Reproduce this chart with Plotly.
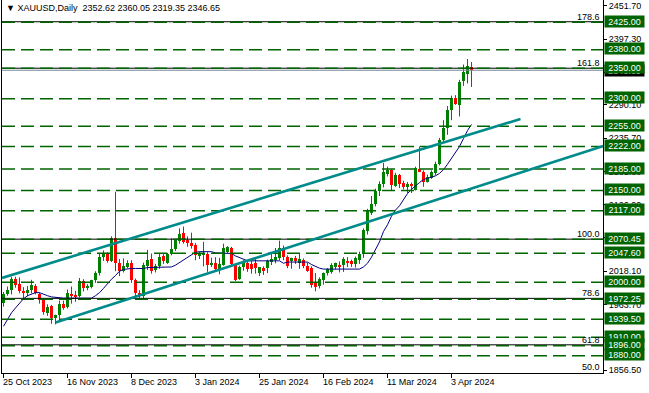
import pandas as pd
import plotly.graph_objects as go

# ---------------- data ----------------
symbol = "XAUUSD"
timeframe = "Daily"
start_date = "2023-10-25"
end_date = "2024-04-10"
holidays = ["2023-12-25", "2024-01-01", "2024-03-29"]

opens = [1966, 1981, 1987, 2005, 1997, 1986, 1983, 1987, 1994, 1981,
         1972, 1950, 1961, 1941, 1946, 1964, 1959, 1981, 1979, 1978,
         2002, 1991, 1993, 2003, 2015, 2042, 2046, 2035, 2072, 2031,
         2019, 2025, 2031, 2004, 1983, 1978, 2027, 2038, 2020, 2027,
         2043, 2032, 2046, 2054, 2068, 2080, 2069, 2064, 2061, 2043,
         2044, 2046, 2029, 2031, 2022, 2029, 2049, 2056, 2028, 2006,
         2025, 2032, 2030, 2031, 2015, 2023, 2023, 2033, 2036, 2039,
         2056, 2041, 2035, 2039, 2031, 2036, 2026, 2023, 1998, 1994,
         2004, 2015, 2017, 2025, 2029, 2028, 2035, 2034, 2030, 2036,
         2047, 2083, 2114, 2128, 2149, 2160, 2177, 2183, 2158, 2176,
         2162, 2156, 2161, 2151, 2185, 2181, 2164, 2171, 2178, 2194,
         2233, 2252, 2281, 2301, 2290, 2329, 2341, 2352.62]
highs = [1984, 1993, 2009, 2009, 2008, 1992, 1994, 2004, 1997, 1983,
         1974, 1964, 1963, 1947, 1970, 1970, 1988, 1993, 1986, 2007,
         2005, 1997, 2004, 2018, 2048, 2052, 2049, 2075, 2148, 2038,
         2039, 2036, 2036, 2006, 1987, 2032, 2053, 2047, 2030, 2047,
         2046, 2048, 2072, 2070, 2088, 2091, 2075, 2081, 2064, 2050,
         2066, 2049, 2040, 2041, 2040, 2063, 2059, 2058, 2030, 2027,
         2036, 2035, 2036, 2041, 2025, 2026, 2037, 2047, 2056, 2068,
         2060, 2044, 2040, 2043, 2047, 2039, 2032, 2026, 2015, 2008,
         2016, 2023, 2031, 2032, 2034, 2041, 2041, 2037, 2042, 2050,
         2088, 2120, 2141, 2153, 2165, 2195, 2189, 2185, 2179, 2177,
         2166, 2164, 2163, 2189, 2222, 2183, 2176, 2183, 2197, 2236,
         2265, 2288, 2305, 2306, 2331, 2356, 2365, 2360.05]
lows = [1960, 1978, 1980, 1991, 1982, 1973, 1977, 1982, 1980, 1965,
        1947, 1945, 1932, 1931, 1938, 1955, 1957, 1965, 1968, 1975,
        1985, 1987, 1990, 1999, 2011, 2035, 2032, 2033, 2018, 2010,
        2016, 2023, 1999, 1976, 1974, 1973, 2020, 2014, 2016, 2022,
        2030, 2030, 2044, 2051, 2063, 2063, 2058, 2055, 2036, 2038,
        2026, 2017, 2025, 2017, 2013, 2027, 2047, 2025, 2002, 2004,
        2019, 2017, 2014, 2014, 2010, 2012, 2015, 2028, 2031, 2036,
        2036, 2023, 2022, 2030, 2022, 2023, 2017, 1991, 1985, 1990,
        1996, 2011, 2014, 2021, 2016, 2017, 2025, 2025, 2024, 2030,
        2040, 2078, 2110, 2124, 2141, 2155, 2173, 2150, 2156, 2154,
        2152, 2146, 2146, 2150, 2180, 2156, 2163, 2169, 2175, 2191,
        2228, 2241, 2265, 2290, 2271, 2321, 2325, 2319.35]
closes = [1981, 1987, 2006, 1996, 1985, 1983, 1988, 1995, 1983, 1971,
          1951, 1960, 1941, 1946, 1964, 1958, 1983, 1978, 1977, 2002,
          1991, 1994, 2003, 2015, 2042, 2046, 2035, 2072, 2031, 2018,
          2026, 2031, 2004, 1982, 1977, 2028, 2037, 2019, 2027, 2041,
          2034, 2047, 2054, 2070, 2079, 2066, 2064, 2060, 2044, 2046,
          2048, 2028, 2032, 2021, 2030, 2056, 2057, 2030, 2004, 2025,
          2033, 2022, 2021, 2023, 2025, 2019, 2035, 2038, 2042, 2056,
          2041, 2026, 2039, 2034, 2038, 2026, 2019, 1996, 1992, 2006,
          2015, 2022, 2028, 2031, 2026, 2038, 2031, 2030, 2039, 2047,
          2085, 2116, 2128, 2150, 2161, 2180, 2184, 2159, 2176, 2160,
          2156, 2160, 2157, 2187, 2181, 2164, 2172, 2181, 2194, 2233,
          2252, 2282, 2301, 2291, 2328, 2344, 2353, 2346.65]

# indicator line (dark blue)
ma_values = [1928, 1939, 1950, 1958, 1966, 1973, 1978, 1981, 1983, 1983,
             1980, 1978, 1976, 1975, 1974.5, 1974, 1974, 1974, 1974, 1974,
             1974, 1974, 1974, 1978, 1983, 1990, 1998, 2005, 2011, 2018,
             2021, 2022, 2022.5, 2022.5, 2022.5, 2022.5, 2024, 2024, 2024, 2024,
             2024, 2024, 2025, 2028, 2032, 2036, 2041, 2045, 2049, 2050,
             2050, 2050, 2050, 2048, 2048, 2048, 2048, 2047, 2043, 2040,
             2037, 2035, 2035, 2035, 2035, 2035, 2036, 2036, 2035, 2035,
             2031, 2033, 2033, 2033, 2033, 2033, 2033, 2029, 2026, 2023,
             2021.5, 2021.5, 2021.5, 2021.5, 2021.5, 2021.5, 2021.5, 2021.5, 2021.5, 2021.5,
             2025, 2031, 2041, 2054, 2066, 2083, 2094, 2108, 2118, 2125,
             2135, 2145, 2152, 2158, 2163, 2168, 2170, 2171, 2174, 2178,
             2184, 2193, 2203, 2213, 2222, 2235, 2248, 2258]

# horizontal price levels (green dashed lines with labels)
levels = [2425.00, 2380.00, 2350.00, 2300.00, 2255.00, 2222.00, 2185.00,
          2150.00, 2117.00, 2070.45, 2047.60, 2000.00, 1972.25, 1939.50,
          1910.00, 1896.00, 1880.00]

# fibonacci object
fib_low = 1618.15
fib_high = 2070.45
fib_ratios = [50.0, 61.8, 78.6, 100.0, 161.8, 178.6]

# channel trendlines (bar index, price)
upper_line_idx = [-0.375, 129.25]
upper_line_px = [2007.0, 2267.0]
lower_line_idx = [13.0, 150.0]
lower_line_px = [1934.0, 2223.0]

# price axis labels
price_ticks = [2451.70, 2397.30, 2343.70, 2290.10, 2235.70, 2181.30,
               2126.90, 2072.50, 2018.10, 1963.70, 1910.10, 1856.50]

date_tick_step = 16

# ---------------- build ----------------
dates = [d for d in pd.bdate_range(start_date, end_date)
         if d.strftime("%Y-%m-%d") not in holidays]
n = len(opens)
idx = list(range(n))

GREEN = "#008000"
RED = "#ff0000"
LEVEL_GREEN = "#006400"
FONT = "Liberation Sans, Arial, sans-serif"

fig = go.Figure()

# candle bodies
bases, heights, colors = [], [], []
for o, c in zip(opens, closes):
    lo, hi = min(o, c), max(o, c)
    h = max(hi - lo, 1.6)
    bases.append(lo if hi - lo >= 1.6 else (lo + hi) / 2 - 0.8)
    heights.append(h)
    colors.append(GREEN if c >= o else RED)

# wicks
for col in (GREEN, RED):
    wx, wy = [], []
    for i in idx:
        if colors[i] == col:
            wx += [i, i, None]
            wy += [lows[i], highs[i], None]
    fig.add_trace(go.Scatter(x=wx, y=wy, mode="lines",
                             line=dict(color=col, width=1),
                             hoverinfo="skip", showlegend=False))

fig.add_trace(go.Bar(x=idx, y=heights, base=bases, width=0.75,
                     marker=dict(color=colors, line=dict(width=0)),
                     showlegend=False, hoverinfo="skip"))

fig.add_trace(go.Scatter(x=idx, y=ma_values, mode="lines",
                         line=dict(color="#000080", width=1),
                         showlegend=False, hoverinfo="skip"))

shapes = []
# fibonacci lines (black)
for r in fib_ratios:
    p = fib_low + (fib_high - fib_low) * r / 100.0
    shapes.append(dict(type="line", xref="paper", x0=0, x1=1, yref="y",
                       y0=p, y1=p, line=dict(color="black", width=1)))
# green dashed levels
for p in levels:
    shapes.append(dict(type="line", xref="paper", x0=0, x1=1, yref="y",
                       y0=p, y1=p,
                       line=dict(color=LEVEL_GREEN, width=1.5, dash="13px,6px")))
# bid line
shapes.append(dict(type="line", xref="paper", x0=0, x1=1, yref="y",
                   y0=closes[-1], y1=closes[-1],
                   line=dict(color="#778899", width=1)))
# channel lines
shapes.append(dict(type="line", xref="x", yref="y",
                   x0=upper_line_idx[0], x1=upper_line_idx[1],
                   y0=upper_line_px[0], y1=upper_line_px[1],
                   line=dict(color="#008b8b", width=2.6)))
shapes.append(dict(type="line", xref="x", yref="y",
                   x0=lower_line_idx[0], x1=lower_line_idx[1],
                   y0=lower_line_px[0], y1=lower_line_px[1],
                   line=dict(color="#008b8b", width=2.6)))

annotations = []
# title
annotations.append(dict(
    xref="paper", yref="paper", x=0, y=1, xanchor="left", yanchor="top",
    xshift=2, yshift=-1, showarrow=False, align="left",
    text="▼ %s,%s  %.2f %.2f %.2f %.2f" % (symbol, timeframe, opens[-1],
                                           highs[-1], lows[-1], closes[-1]),
    font=dict(family=FONT, size=9, color="black")))
# fib labels
for r in fib_ratios:
    p = fib_low + (fib_high - fib_low) * r / 100.0
    yv = max(p, 1853.0)
    annotations.append(dict(
        xref="paper", yref="y", x=1, y=yv, xanchor="right", yanchor="bottom",
        xshift=-1, yshift=-2, showarrow=False, text="%.1f" % r,
        font=dict(family=FONT, size=9, color="black")))
# date labels
tick_idx = idx[::date_tick_step]
for i in tick_idx:
    d = dates[i]
    annotations.append(dict(
        xref="x", yref="paper", x=i, y=0, xanchor="left", yanchor="top",
        xshift=-3, yshift=-2, showarrow=False,
        text="%d %s" % (d.day, d.strftime("%b %Y")),
        font=dict(family=FONT, size=9, color="black")))
# bid label (hidden mostly)
annotations.append(dict(
    xref="paper", yref="y", x=1, y=closes[-1], xanchor="left", yanchor="middle",
    xshift=1, showarrow=False, text="%.2f" % closes[-1], bgcolor="black",
    width=39, height=11, borderpad=0,
    font=dict(family=FONT, size=9, color="white")))
# green level labels
for p in levels:
    annotations.append(dict(
        xref="paper", yref="y", x=1, y=p, xanchor="left", yanchor="middle",
        xshift=1, yshift=1, showarrow=False, text="%.2f" % p,
        bgcolor=LEVEL_GREEN, width=39, height=11, borderpad=0,
        font=dict(family=FONT, size=9, color="white")))

fig.update_layout(
    width=649, height=393,
    margin=dict(l=2, r=46, t=0, b=20),
    paper_bgcolor="white", plot_bgcolor="white",
    shapes=shapes, annotations=annotations,
    bargap=0, showlegend=False,
    xaxis=dict(range=[-0.375, 149.875], showgrid=False, zeroline=False,
               showline=True, linecolor="black", linewidth=1,
               ticks="outside", ticklen=4, tickcolor="black",
               tickvals=tick_idx, showticklabels=False, fixedrange=True),
    yaxis=dict(range=[1851.6, 2461.5], side="right", showgrid=False,
               zeroline=False, showline=True, linecolor="black", linewidth=1,
               mirror=True, ticks="outside", ticklen=3, tickcolor="black",
               tickvals=price_ticks, ticktext=["%.2f" % v for v in price_ticks],
               tickfont=dict(family=FONT, size=9, color="black"),
               fixedrange=True),
)

fig.write_html(
    "out.html",
    config={"displayModeBar": False},
    post_script="document.body.style.margin='0';document.body.style.padding='0';",
)
